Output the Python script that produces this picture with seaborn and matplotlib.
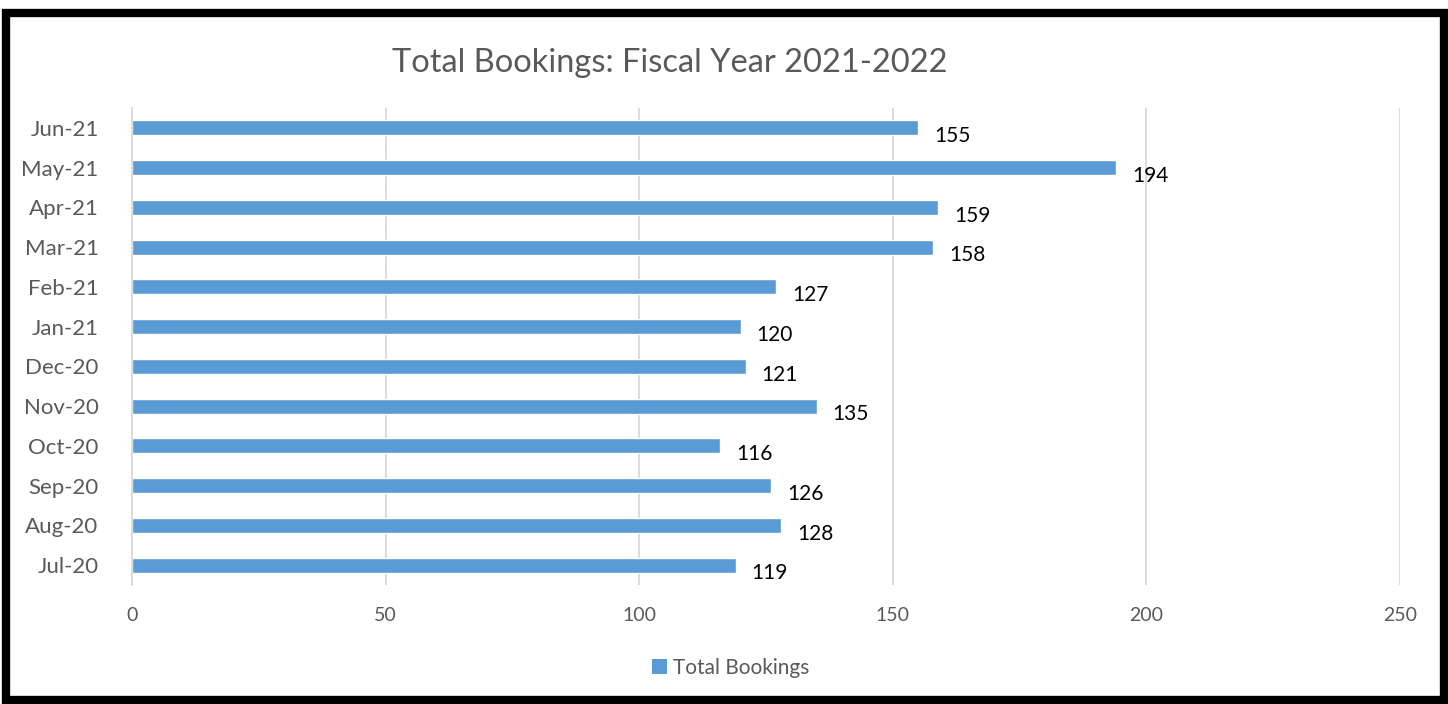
import matplotlib
matplotlib.use("Agg")
import matplotlib.pyplot as plt
import seaborn as sns
import pandas as pd
from matplotlib.patches import Rectangle, Patch

months = ["Jun-21", "May-21", "Apr-21", "Mar-21", "Feb-21", "Jan-21",
          "Dec-20", "Nov-20", "Oct-20", "Sep-20", "Aug-20", "Jul-20"]
bookings = [155, 194, 159, 158, 127, 120, 121, 135, 116, 126, 128, 119]
x_ticks = [0, 50, 100, 150, 200, 250]

df = pd.DataFrame({"Month": months, "Total Bookings": bookings})

sns.set_theme(style="white")
plt.rcParams['font.family'] = ['Lato', 'DejaVu Sans']

fig = plt.figure(figsize=(14.48, 7.04), dpi=100)
ax = fig.add_axes([132/1448, 1-585/704, (1400-132)/1448, (585-108)/704])

bar_color = "#5B9BD5"
sns.barplot(data=df, y="Month", x="Total Bookings", order=months,
            color=bar_color, width=0.38, ax=ax, saturation=1)

ax.set_xlim(0, 250)
ax.set_xticks(x_ticks)
ax.set_xticklabels([str(t) for t in x_ticks])
ax.grid(axis="x", color="#D9D9D9", linewidth=1.3)
ax.set_axisbelow(True)
for s in ["top", "right", "bottom"]:
    ax.spines[s].set_visible(False)
ax.spines["left"].set_color("#D9D9D9")
ax.spines["left"].set_linewidth(1.3)
ax.set_xlabel("")
ax.set_ylabel("")
ax.tick_params(axis="both", length=0, labelcolor="#595959")
ax.tick_params(axis="x", pad=16, labelsize=14)
ax.tick_params(axis="y", pad=24, labelsize=16)

for i, v in enumerate(bookings):
    ax.annotate(str(v), xy=(v, i), xytext=(11.5, -6), textcoords="offset points",
                ha="left", va="center", fontsize=15, color="black")

fig.text(670/1448, 1-63/704, "Total Bookings: Fiscal Year 2021-2022",
         ha="center", va="center", fontsize=23.5, color="#595959")

handle = Patch(facecolor=bar_color, edgecolor="none")
fig.legend([handle], ["Total Bookings"], loc="center", bbox_to_anchor=(731/1448, 1-668/704),
           frameon=False, fontsize=15, labelcolor="#595959",
           handlelength=0.7, handleheight=0.7, handletextpad=0.3)

fig.patches.append(Rectangle((6/1448, 4/704), (1438)/1448, (687)/704,
                             transform=fig.transFigure, fill=False,
                             edgecolor="black", linewidth=6, zorder=10))

fig.savefig("out.png", dpi=100)
